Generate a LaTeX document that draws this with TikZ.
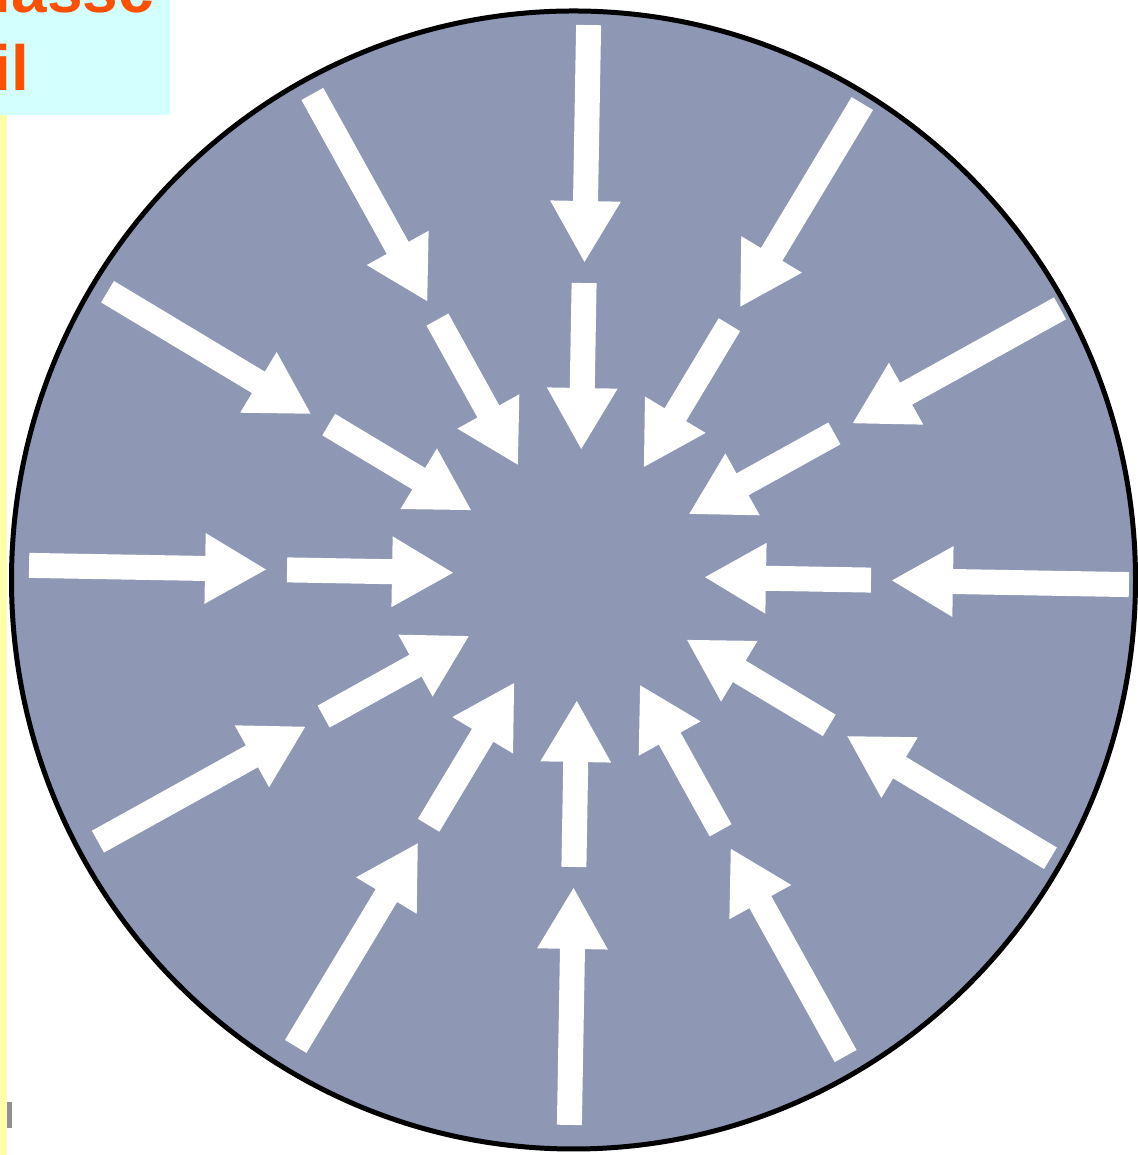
\documentclass[tikz,border=0pt]{standalone}
\usepackage{fontspec}
\newfontfamily\tagfont{Liberation Sans}
\usepackage{xcolor}
\definecolor{cDisk}{HTML}{8E97B4}
\definecolor{cTag}{HTML}{D4FFFF}
\definecolor{cTagText}{HTML}{FF5000}
\definecolor{cStripe}{HTML}{FFFFAA}
\definecolor{cMark}{HTML}{919191}
\usetikzlibrary{arrows.meta}
\tikzset{
  disk/.style={fill=cDisk,draw=black,line width=0.1cm},
  arrow-in/.style={draw=white,line width=0.5cm,
    -{Triangle[length=1.24cm,width=1.32cm]}},
  tag-box/.style={fill=cTag},
  tag-text/.style={font=\tagfont\bfseries\fontsize{36.4}{44.4}\selectfont,
    text=cTagText,inner sep=0pt,anchor=base west},
}

\begin{document}
\begin{tikzpicture}[x=0.02cm,y=0.02cm]
  \useasboundingbox (0,0) rectangle (1138,1155);
  % label cut off in the corner
  \begin{scope}
    \clip (0,1040) rectangle (170,1155);
    \fill[tag-box] (0,1040) rectangle (170,1155);
    \node[tag-text] (tag-top) at (-6.5,1142) {lassc};
    \node[tag-text] (tag-bot) at (-6.5,1064) {il};
  \end{scope}
  \fill[cStripe] (0,0) rectangle (7,1040);
  \fill[cMark] (7,27) rectangle (12,53);
  % disk with the arrows
  \draw[disk] (573.5,575) ellipse [x radius=562, y radius=569];
  \coordinate (hub) at (579,580);
  \foreach \a in {0,30,...,330} {
    \coordinate (outer-tail) at ([shift={(\a-1:550)}]hub);
    \coordinate (outer-tip) at ([shift={(\a-1:312)}]hub);
    \coordinate (inner-tail) at ([shift={(\a-1:292)}]hub);
    \coordinate (inner-tip) at ([shift={(\a-1:125)}]hub);
    \draw[arrow-in] (outer-tail) -- (outer-tip);
    \draw[arrow-in] (inner-tail) -- (inner-tip);
  }
\end{tikzpicture}
\end{document}
